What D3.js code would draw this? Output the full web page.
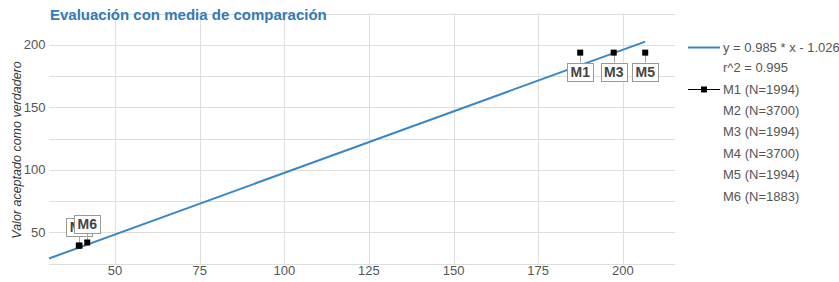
<!DOCTYPE html>
<html>
<head>
<meta charset="utf-8">
<script src="https://cdn.jsdelivr.net/npm/d3@7"></script>
<style>
  body { margin: 0; background: #fff; font-family: "Liberation Sans", Arial, sans-serif; }
  .grid line { stroke: #dedede; stroke-width: 1; }
  .tick-label { fill: #555; font-size: 13px; }
  .legend text { fill: #555; font-size: 13px; }
</style>
</head>
<body>
<div id="chart"></div>
<script>
// data
var names = ["M1", "M2", "M3", "M4", "M5", "M6"];
var counts = [1994, 3700, 1994, 3700, 1994, 1883];
var xValues = [187.4, 39.3, 197.3, 39.5, 206.6, 41.8];
var yValues = [193.7, 39.3, 193.7, 39.3, 193.7, 41.8];
var slope = 0.985;
var intercept = -1.026;
var r2 = 0.995;
var xTicks = [50, 75, 100, 125, 150, 175, 200];
var yTicks = [50, 100, 150, 200];
var yGrid = [25, 50, 75, 100, 125, 150, 175, 200, 225];

function drawChart() {
  var w = 839, h = 282;
  var margin = {left: 49, right: 164, top: 13.5, bottom: 18.5};

  var svg = d3.select("#chart")
    .append("svg")
    .attr("width", w)
    .attr("height", h);

  var dataset = names.map(function(n, i) {
    return {name: n, n: counts[i], x: xValues[i], y: yValues[i]};
  });

  var xScale = d3.scaleLinear()
    .domain([30.5, 215.4])
    .range([margin.left, w - margin.right]);

  var yScale = d3.scaleLinear()
    .domain([25, 225])
    .range([h - margin.bottom, margin.top]);

  // grid lines
  var grid = svg.append("g").attr("class", "grid");
  grid.selectAll("line.h")
    .data(yGrid)
    .enter()
    .append("line")
    .attr("class", "h")
    .attr("x1", xScale.range()[0])
    .attr("x2", xScale.range()[1])
    .attr("y1", function(d) { return Math.round(yScale(d)) + 0.5; })
    .attr("y2", function(d) { return Math.round(yScale(d)) + 0.5; });

  grid.selectAll("line.v")
    .data(xTicks)
    .enter()
    .append("line")
    .attr("class", "v")
    .attr("x1", function(d) { return Math.round(xScale(d)) + 0.5; })
    .attr("x2", function(d) { return Math.round(xScale(d)) + 0.5; })
    .attr("y1", yScale(225))
    .attr("y2", yScale(25));

  // tick labels
  svg.selectAll("text.ytick")
    .data(yTicks)
    .enter()
    .append("text")
    .attr("class", "tick-label")
    .attr("x", 45.5)
    .attr("y", function(d) { return yScale(d); })
    .attr("dy", "0.35em")
    .attr("text-anchor", "end")
    .text(function(d) { return d; });

  svg.selectAll("text.xtick")
    .data(xTicks)
    .enter()
    .append("text")
    .attr("class", "tick-label")
    .attr("x", function(d) { return xScale(d); })
    .attr("y", 275)
    .attr("text-anchor", "middle")
    .text(function(d) { return d; });

  // title
  svg.append("text")
    .attr("x", 50)
    .attr("y", 19.5)
    .attr("fill", "#337ab7")
    .style("font-size", "15px")
    .style("font-weight", "bold")
    .text("Evaluación con media de comparación");

  // y label
  svg.append("text")
    .attr("transform", "translate(21,150) rotate(-90)")
    .attr("text-anchor", "middle")
    .attr("fill", "#333")
    .style("font-size", "12.5px")
    .style("font-style", "italic")
    .text("Valor aceptado como verdadero");

  // regression line
  var x0 = xScale.domain()[0];
  var x1 = d3.max(dataset, function(d) { return d.x; });
  var line = d3.line()
    .x(function(d) { return xScale(d); })
    .y(function(d) { return yScale(slope * d + intercept); });
  svg.append("path")
    .datum([x0, x1])
    .attr("d", line)
    .attr("fill", "none")
    .attr("stroke", "#3a87c2")
    .attr("stroke-width", 2);

  // labels with connectors
  var midY = (yScale.domain()[0] + yScale.domain()[1]) / 2;
  var boxW = 26, boxH = 18, gap = 10;
  var labels = svg.append("g").selectAll("g")
    .data(dataset)
    .enter()
    .append("g");

  labels.append("line")
    .attr("x1", function(d) { return Math.round(xScale(d.x)) + 0.5; })
    .attr("x2", function(d) { return Math.round(xScale(d.x)) + 0.5; })
    .attr("y1", function(d) { return yScale(d.y); })
    .attr("y2", function(d) { return d.y > midY ? yScale(d.y) + gap : yScale(d.y) - gap; })
    .attr("stroke", "#aaa");

  labels.append("rect")
    .attr("x", function(d) { return Math.round(xScale(d.x) - boxW / 2) + 0.5; })
    .attr("y", function(d) { return Math.round(d.y > midY ? yScale(d.y) + gap : yScale(d.y) - gap - boxH) + 0.5; })
    .attr("width", boxW)
    .attr("height", boxH)
    .attr("fill", "#fff")
    .attr("stroke", "#999");

  labels.append("text")
    .attr("x", function(d) { return xScale(d.x); })
    .attr("y", function(d) { return (d.y > midY ? yScale(d.y) + gap : yScale(d.y) - gap - boxH) + boxH / 2; })
    .attr("dy", "0.36em")
    .attr("text-anchor", "middle")
    .attr("fill", "#444")
    .style("font-size", "14px")
    .style("font-weight", "bold")
    .text(function(d) { return d.name; });

  // points
  svg.append("g").selectAll("rect")
    .data(dataset)
    .enter()
    .append("rect")
    .attr("x", function(d) { return xScale(d.x) - 3; })
    .attr("y", function(d) { return yScale(d.y) - 3; })
    .attr("width", 6)
    .attr("height", 6)
    .attr("fill", "#000");

  // legend
  var legend = svg.append("g").attr("class", "legend");
  legend.append("line")
    .attr("x1", 688).attr("x2", 720)
    .attr("y1", 47.5).attr("y2", 47.5)
    .attr("stroke", "#3a87c2").attr("stroke-width", 2);
  legend.append("text")
    .attr("x", 723).attr("y", 47).attr("dy", "0.35em")
    .text("y = " + slope + " * x - " + Math.abs(intercept));
  legend.append("text")
    .attr("x", 723).attr("y", 67).attr("dy", "0.35em")
    .text("r^2 = " + r2);

  legend.append("line")
    .attr("x1", 688).attr("x2", 720)
    .attr("y1", 89.5).attr("y2", 89.5)
    .attr("stroke", "#000").attr("stroke-width", 1);
  legend.append("rect")
    .attr("x", 701).attr("y", 86.5)
    .attr("width", 6).attr("height", 6)
    .attr("fill", "#000");

  legend.selectAll("text.m")
    .data(dataset)
    .enter()
    .append("text")
    .attr("class", "m")
    .attr("x", 723)
    .attr("y", function(d, i) { return 89 + i * 21.4; })
    .attr("dy", "0.35em")
    .text(function(d) { return d.name + " (N=" + d.n + ")"; });
}

window.onload = function () {
  drawChart();
};
</script>
</body>
</html>
